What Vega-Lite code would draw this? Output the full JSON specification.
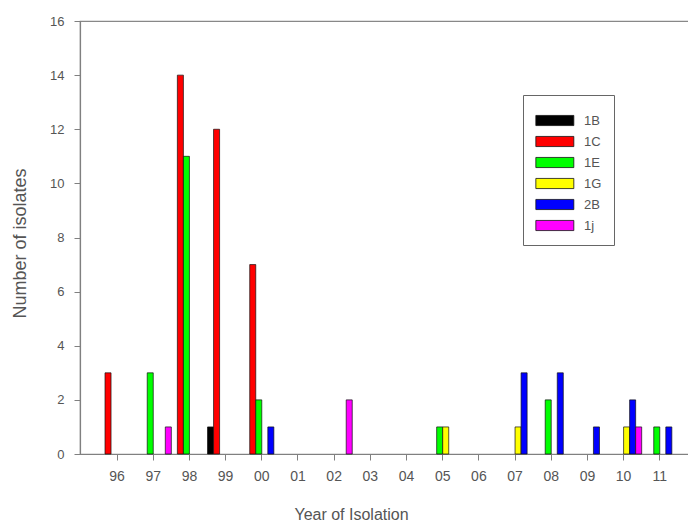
{
  "$schema": "https://vega.github.io/schema/vega-lite/v6.json",
  "width": 610,
  "height": 433,
  "autosize": {"type": "none"},
  "padding": {"left": 80, "top": 21, "right": 0, "bottom": 71},
  "background": "white",
  "config": {
    "font": "Liberation Sans",
    "view": {"stroke": "#888888", "strokeWidth": 1.2},
    "axis": {"grid": false, "domainColor": "#808080", "domainWidth": 1.2, "tickColor": "#808080", "tickSize": 6, "labelColor": "#555555", "titleColor": "#555555", "labelFont": "Liberation Sans", "titleFont": "Liberation Sans", "titleFontWeight": "normal"}
  },
  "data": {
    "values": [
      {"year": "96", "type": "1C", "count": 3},
      {"year": "97", "type": "1E", "count": 3},
      {"year": "97", "type": "1j", "count": 1},
      {"year": "98", "type": "1C", "count": 14},
      {"year": "98", "type": "1E", "count": 11},
      {"year": "99", "type": "1B", "count": 1},
      {"year": "99", "type": "1C", "count": 12},
      {"year": "00", "type": "1C", "count": 7},
      {"year": "00", "type": "1E", "count": 2},
      {"year": "00", "type": "2B", "count": 1},
      {"year": "02", "type": "1j", "count": 2},
      {"year": "05", "type": "1E", "count": 1},
      {"year": "05", "type": "1G", "count": 1},
      {"year": "07", "type": "1G", "count": 1},
      {"year": "07", "type": "2B", "count": 3},
      {"year": "08", "type": "1E", "count": 2},
      {"year": "08", "type": "2B", "count": 3},
      {"year": "09", "type": "2B", "count": 1},
      {"year": "10", "type": "1G", "count": 1},
      {"year": "10", "type": "2B", "count": 2},
      {"year": "10", "type": "1j", "count": 1},
      {"year": "11", "type": "1E", "count": 1},
      {"year": "11", "type": "2B", "count": 1}
    ]
  },
  "mark": {"type": "bar", "stroke": "#111111", "strokeWidth": 0.7},
  "encoding": {
    "x": {
      "field": "year", "type": "ordinal",
      "scale": {"domain": ["96","97","98","99","00","01","02","03","04","05","06","07","08","09","10","11"], "paddingInner": 0, "paddingOuter": 0.43, "align": 0.61},
      "axis": {"title": "Year of Isolation", "labelAngle": 0, "labelFontSize": 14, "labelPadding": 9, "titleFontSize": 16, "titleX": 271, "titleY": 60, "titleBaseline": "middle", "titleAlign": "center"}
    },
    "xOffset": {
      "field": "type", "type": "nominal",
      "scale": {"domain": ["1B","1C","1E","1G","2B","1j"], "paddingInner": 0, "paddingOuter": 0}
    },
    "y": {
      "field": "count", "type": "quantitative",
      "scale": {"domain": [0, 16], "nice": false},
      "axis": {"title": "Number of isolates", "values": [0,2,4,6,8,10,12,14,16], "labelFontSize": 13, "labelPadding": 10, "titleFontSize": 18, "titleX": -60, "titleY": 222, "titleBaseline": "middle", "titleAlign": "center"}
    },
    "color": {
      "field": "type", "type": "nominal",
      "scale": {"domain": ["1B","1C","1E","1G","2B","1j"], "range": ["#000000","#ff0000","#00ff00","#ffff00","#0000ff","#ff00ff"]},
      "legend": {
        "title": null, "orient": "none", "legendX": 443, "legendY": 74,
        "strokeColor": "#666666", "fillColor": "white", "padding": 12,
        "symbolType": "M-1,-0.4H2V0.4H-1Z", "symbolSize": 641,
        "symbolStrokeColor": "#111111", "symbolStrokeWidth": 0.8, "symbolOpacity": 1,
        "labelFontSize": 13, "labelColor": "#555555", "labelOffset": 22, "rowPadding": -1,
        "labelExpr": "datum.label + '    '"
      }
    }
  }
}
